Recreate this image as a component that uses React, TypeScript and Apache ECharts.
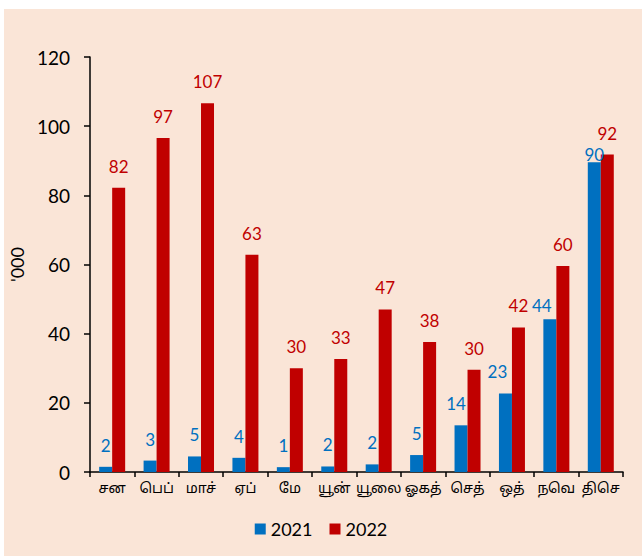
import React, { useEffect, useRef } from "react";
import * as echarts from "echarts";

const categories = ["சன", "பெப்", "மாச்", "ஏப்", "மே", "யூன்", "யூலை", "ஓகத்", "செத்", "ஒத்", "நவெ", "திசெ"];
const values2021 = [1.5, 3.3, 4.5, 4.1, 1.4, 1.6, 2.2, 4.9, 13.5, 22.7, 44.2, 89.6];
const values2022 = [82.2, 96.6, 106.6, 62.8, 30.0, 32.7, 47.0, 37.6, 29.6, 41.8, 59.6, 91.8];
const labelOffsets2021: [number, number][] = [
  [0, 0], [0, 0], [0, 0], [0, 0], [0, 0], [0, 0], [0, 0], [0, 0], [-5, 0], [-8, 0], [-8, 8], [0, 14],
];
const yTicks = { min: 0, max: 120, interval: 20 };
const seriesNames = ["2021", "2022"];

const BLUE = "#0070C0";
const RED = "#C00000";
const FONT = "Lato, 'Noto Sans', sans-serif";

export default function App() {
  const ref = useRef<HTMLDivElement>(null);
  useEffect(() => {
    if (!ref.current) return;
    const chart = echarts.init(ref.current, null, { renderer: "svg" });
    chart.setOption({
      animation: false,
      backgroundColor: "#ffffff",
      graphic: [
        {
          type: "rect",
          z: -10,
          silent: true,
          shape: { x: 4, y: 9, width: 638, height: 547 },
          style: { fill: "#FAE5D7" },
        },
      ],
      grid: { left: 81, right: 19, top: 57, bottom: 84, containLabel: false },
      legend: {
        data: seriesNames,
        top: 515,
        left: "center",
        icon: "rect",
        itemWidth: 11,
        itemHeight: 11,
        itemGap: 17,
        itemStyle: { borderWidth: 0 },
        textStyle: { fontFamily: FONT, fontSize: 18, color: "#000" },
      },
      xAxis: {
        type: "category",
        data: categories,
        axisLine: { lineStyle: { color: "#000", width: 1.5 } },
        axisTick: { show: true, alignWithLabel: false, length: 5, lineStyle: { color: "#000", width: 1.5 } },
        axisLabel: { interval: 0, margin: 10, fontSize: 14, color: "#000", fontFamily: "'Noto Sans Tamil', 'Latha', 'Noto Sans', sans-serif" },
      },
      yAxis: {
        type: "value",
        min: yTicks.min,
        max: yTicks.max,
        interval: yTicks.interval,
        name: "'000",
        nameLocation: "middle",
        nameGap: 46,
        nameRotate: 90,
        nameTextStyle: { fontFamily: FONT, fontSize: 18, fontWeight: "normal", color: "#000" },
        splitLine: { show: false },
        axisLine: { show: true, lineStyle: { color: "#000", width: 1.5 } },
        axisTick: { show: true, length: 6, lineStyle: { color: "#000", width: 1.5 } },
        axisLabel: { margin: 20, fontSize: 19, color: "#000", fontFamily: FONT },
      },
      series: [
        {
          name: seriesNames[0],
          type: "bar",
          barWidth: 13,
          barGap: "0%",
          itemStyle: { color: BLUE },
          data: values2021.map((v, i) => ({
            value: v,
            label: { offset: labelOffsets2021[i] },
          })),
          label: {
            show: true,
            position: "top",
            distance: 13,
            color: BLUE,
            fontSize: 17,
            fontFamily: FONT,
            formatter: (p: any) => String(Math.round(p.value)),
          },
        },
        {
          name: seriesNames[1],
          type: "bar",
          barWidth: 13,
          barGap: "0%",
          itemStyle: { color: RED },
          data: values2022,
          label: {
            show: true,
            position: "top",
            distance: 13,
            color: RED,
            fontSize: 17,
            fontFamily: FONT,
            formatter: (p: any) => String(Math.round(p.value)),
          },
        },
      ],
    });
    return () => chart.dispose();
  }, []);
  return (
    <div
      ref={ref}
      style={{ position: "fixed", left: 0, top: 0, width: 642, height: 556 }}
    />
  );
}
